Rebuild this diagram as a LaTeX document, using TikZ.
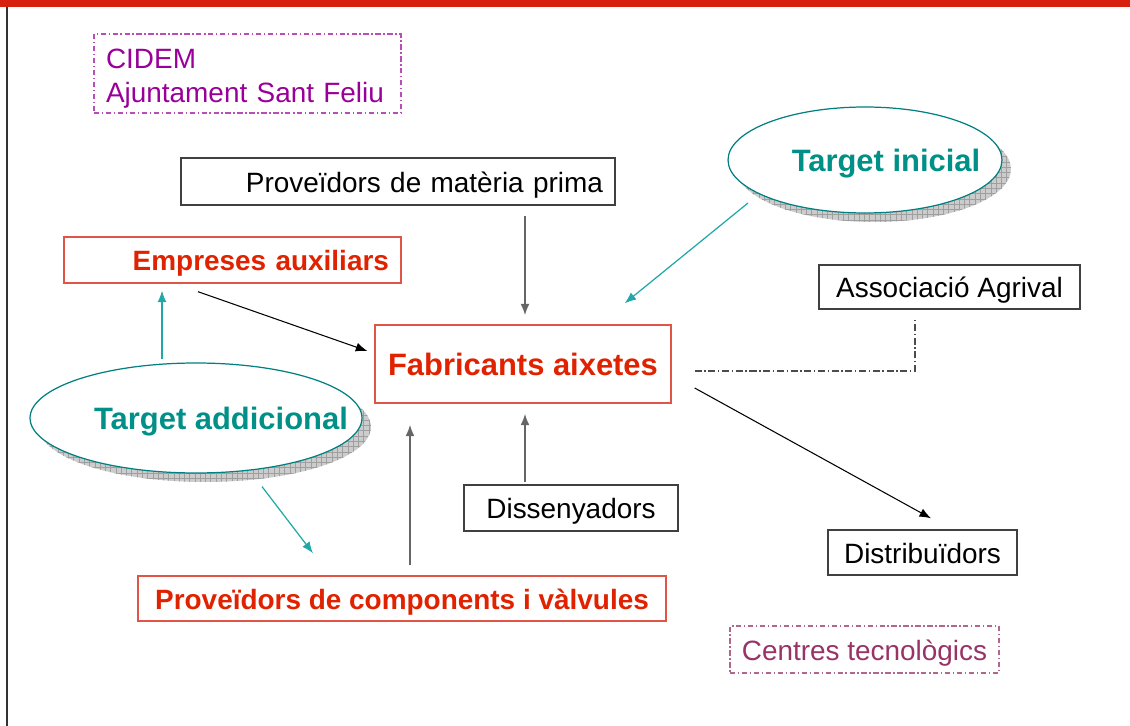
\documentclass[tikz,border=0pt]{standalone}
\usepackage{fontspec}
\setmainfont{Liberation Sans}
\usetikzlibrary{shapes.geometric, shadows, patterns, calc, arrows.meta}
\definecolor{barred}{HTML}{D82010}
\definecolor{boxred}{HTML}{E05545}
\definecolor{txtred}{HTML}{E02200}
\definecolor{tealline}{HTML}{008080}
\definecolor{tealtext}{HTML}{009088}
\definecolor{tealline2}{HTML}{20A8A8}
\definecolor{cidemcol}{HTML}{990099}
\definecolor{centrescol}{HTML}{993366}
\tikzset{
  oneline/.style={text height=12.9pt, text depth=0.5pt},
  bigline/.style={text height=14.1pt, text depth=0.5pt},
  plainbox/.style={draw=black!75, line width=0.8pt, inner sep=0pt, oneline, font=\fontsize{15.9}{19}\selectfont},
  redbox/.style={draw=boxred, line width=0.8pt, inner sep=0pt, oneline, text=txtred, font=\fontsize{15.9}{19}\selectfont\bfseries},
  dotbox/.style={line width=0.8pt, inner sep=0pt, dash pattern=on 3pt off 1.5pt on 0.8pt off 1.5pt, font=\fontsize{15.9}{19.3}\selectfont},
  target/.style={ellipse, draw=tealline, line width=0.7pt, fill=white, inner sep=0pt,
    general shadow={fill=gray!40, shadow xshift=0.18cm, shadow yshift=-0.18cm},
    general shadow={pattern=grid, pattern color=gray!75, shadow xshift=0.18cm, shadow yshift=-0.18cm}},
  tlabel/.style={bigline, text=tealtext, font=\fontsize{17.6}{21}\selectfont\bfseries},
  blackarr/.style={-{Latex[length=0.23cm, width=0.18cm]}, line width=0.6pt, black},
  greyarr/.style={-{Latex[length=0.23cm, width=0.18cm]}, line width=1pt, black!60},
  tealarr/.style={-{Latex[length=0.23cm, width=0.18cm]}, line width=0.7pt, tealline2}
}
\begin{document}
\begin{tikzpicture}[x=0.02cm, y=-0.02cm]
    \useasboundingbox (0,0) rectangle (1130,726);
    \fill[barred] (0,0) rectangle (1130,7);
    \draw[black!80, line width=0.8pt] (7,7) -- (7,726);

    \node [dotbox, draw=cidemcol!70, text=cidemcol, text width=5.66cm, align=left, inner xsep=0.24cm, minimum height=1.58cm] (cidem) at (247.5,73.5) {\rule{0pt}{0.58cm}CIDEM\\Ajuntament Sant Feliu};
    \node [plainbox, text width=8.2cm, align=right, inner xsep=0.24cm, minimum height=0.94cm] (materia) at (398,181.5) {Proveïdors de matèria prima};
    \node [redbox, text width=6.26cm, align=right, inner xsep=0.24cm, minimum height=0.92cm] (emp) at (232.5,260) {Empreses auxiliars};
    \node [plainbox, minimum width=5.22cm, minimum height=0.88cm] (agrival) at (949.5,287) {Associació Agrival};
    \node [redbox, bigline, minimum width=5.92cm, minimum height=1.56cm, font=\fontsize{17.6}{21}\selectfont\bfseries] (fab) at (523,364) {Fabricants aixetes};
    \node [plainbox, minimum width=4.28cm, minimum height=0.92cm] (dis) at (571,508) {Dissenyadors};
    \node [plainbox, minimum width=3.78cm, minimum height=0.9cm] (distr) at (922.5,552.5) {Distribuïdors};
    \node [redbox, minimum width=10.56cm, minimum height=0.9cm] (comp) at (402,598.5) {Proveïdors de components i vàlvules};
    \node [dotbox, oneline, draw=centrescol!75, text=centrescol, minimum width=5.38cm, minimum height=0.94cm] (centres) at (864.5,649.5) {Centres tecnològics};

    \node [target, minimum width=5.48cm, minimum height=2.12cm, label={[tlabel, xshift=0.42cm]center:Target inicial}] (tinit) at (865,160) {};
    \node [target, minimum width=6.64cm, minimum height=2.2cm, label={[tlabel, xshift=0.5cm]center:Target addicional}] (tadd) at (196,418) {};

    \draw [greyarr] ($(fab.north |- materia.south)+(2,10)$) -- ($(fab.north)+(2,-9)$);
    \draw [blackarr] ($(emp.south)+(-34.5,8)$) -- ($(fab.west)+(-7,-13)$);
    \draw [tealarr] ($(tinit.center)+(-117,43)$) -- ($(fab.north east)+(-47,-21)$);
    \draw [tealarr] ($(tadd.north)+(-34,-3)$) -- ($(emp.south)+(-70.5,7)$);
    \draw [tealarr] ($(tadd.south)+(66,13)$) -- ($(comp.north)+(-89,-22)$);
    \draw [greyarr] ($(comp.north)+(8,-10)$) -- ($(fab.south)+(-113,21)$);
    \draw [greyarr] ($(dis.north)+(-46,-2)$) -- ($(fab.south)+(2,10)$);
    \draw [blackarr] ($(fab.east)+(23,24)$) -- ($(distr.north)+(8.5,-11)$);
    \draw [black!70, line width=0.7pt, dash pattern=on 4pt off 1.5pt on 0.8pt off 1.5pt] ($(fab.east)+(23,7)$) -| ($(agrival.south)+(-34.5,9)$);
\end{tikzpicture}
\end{document}
